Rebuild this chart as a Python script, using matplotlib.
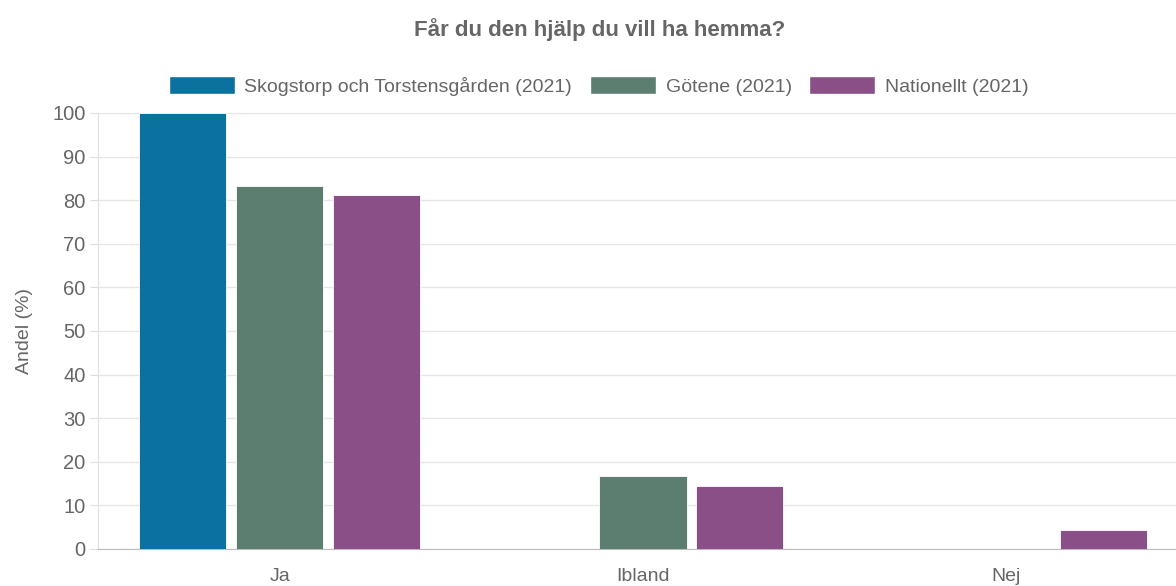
import numpy as np
import matplotlib.pyplot as plt
from matplotlib.patches import Patch

plt.rcParams['font.family'] = ['Liberation Sans', 'DejaVu Sans']

categories = ['Ja', 'Ibland', 'Nej']
series_names = ['Skogstorp och Torstensgården (2021)', 'Götene (2021)', 'Nationellt (2021)']
skogstorp = [100, 0, 0]
gotene = [83.3, 16.7, 0]
nationellt = [81.2, 14.4, 4.4]
colors = ['#0b729f', '#5c7e71', '#8a4f87']

fig = plt.figure(figsize=[11.76, 5.86], dpi=100)
# plot area runs slightly past the right edge of the canvas
ax = fig.add_axes([98 / 1176, 1 - 549 / 586, (1188 - 98) / 1176, (549 - 113) / 586])

x = np.arange(len(categories))
slot = 0.8 / 3
width = slot * 0.9
for i, (vals, col) in enumerate(zip([skogstorp, gotene, nationellt], colors)):
    ax.bar(x + (i - 1) * slot, vals, width=width, color=col,
           edgecolor='#ffffff', linewidth=0.6, zorder=3)

ax.set_xlim(-0.5, 2.5)
ax.set_ylim(0, 100)
ax.set_yticks(np.arange(0, 101, 10))
ax.set_xticks(x)
ax.set_xticklabels(categories)
ax.grid(axis='y', color='#e6e6e6', linewidth=1, zorder=0)
ax.tick_params(axis='y', length=6, color='#dddddd', labelcolor='#666666', labelsize=14.5, pad=3)
ax.tick_params(axis='x', length=0, labelcolor='#666666', labelsize=14, pad=14)
for s in ['top', 'right']:
    ax.spines[s].set_visible(False)
ax.spines['left'].set_color('#e0e0e0')
ax.spines['bottom'].set_color('#bbbbbb')
ax.set_ylabel('Andel (%)', color='#666666', fontsize=14, labelpad=14)

fig.text(0.51, 1 - 30 / 586, 'Får du den hjälp du vill ha hemma?', ha='center', va='center',
         fontsize=16, fontweight='bold', color='#666666')

handles = [Patch(facecolor=c, edgecolor='#ffffff') for c in colors]
fig.legend(handles, series_names, loc='center', bbox_to_anchor=(0.509, 1 - 86 / 586), ncol=3,
           frameon=False, fontsize=14, handlelength=3.4, handleheight=1.0,
           columnspacing=0.9, handletextpad=0.5, labelcolor='#666666')

plt.savefig('out.png', dpi=100)
